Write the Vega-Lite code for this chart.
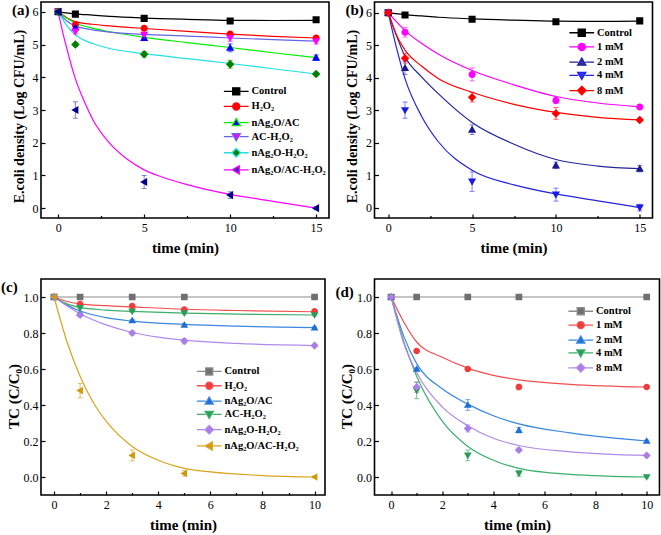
{
"$schema": "https://vega.github.io/schema/vega-lite/v6.json",
"background": "white",
"padding": {"left": 0, "top": 1, "right": 0, "bottom": 0},
"config": {
 "view": {"stroke": "#000", "strokeWidth": 1.6},
 "axis": {"grid": false, "domain": false, "tickColor": "#000", "tickWidth": 1.2, "labelOverlap": false, "labelFont": "Liberation Serif", "labelFontSize": 12, "labelColor": "#000", "titleFont": "Liberation Serif", "titleFontSize": 15, "titleFontWeight": "bold", "titleColor": "#000"},
 "axisX": {"labelPadding": 8, "titlePadding": 6},
 "axisY": {"labelPadding": 7, "titlePadding": 6},
 "legend": {"labelFont": "Liberation Serif", "labelFontSize": 10.5, "labelFontWeight": "bold", "labelColor": "#000", "padding": 0, "symbolSize": 50, "labelOffset": 10},
 "title": {"font": "Liberation Serif", "fontSize": 15, "fontWeight": "bold", "color": "#000", "anchor": "start", "frame": "group"}
},
"datasets": {
 "a_pts": [
  {"s":"Control","t":0,"y":6,"lo":6,"hi":6},{"s":"Control","t":1,"y":5.93,"lo":5.88,"hi":5.98},{"s":"Control","t":5,"y":5.8,"lo":5.75,"hi":5.85},{"s":"Control","t":10,"y":5.72,"lo":5.66,"hi":5.78},{"s":"Control","t":15,"y":5.76,"lo":5.71,"hi":5.81},
  {"s":"H₂O₂","t":0,"y":6,"lo":6,"hi":6},{"s":"H₂O₂","t":1,"y":5.6,"lo":5.52,"hi":5.68},{"s":"H₂O₂","t":5,"y":5.5,"lo":5.45,"hi":5.55},{"s":"H₂O₂","t":10,"y":5.32,"lo":5.27,"hi":5.37},{"s":"H₂O₂","t":15,"y":5.2,"lo":5.15,"hi":5.25},
  {"s":"nAg₂O/AC","t":0,"y":6,"lo":6,"hi":6},{"s":"nAg₂O/AC","t":1,"y":5.52,"lo":5.44,"hi":5.6},{"s":"nAg₂O/AC","t":5,"y":5.2,"lo":5.12,"hi":5.28},{"s":"nAg₂O/AC","t":10,"y":4.9,"lo":4.78,"hi":5.02},{"s":"nAg₂O/AC","t":15,"y":4.6,"lo":4.52,"hi":4.68},
  {"s":"AC-H₂O₂","t":0,"y":6,"lo":6,"hi":6},{"s":"AC-H₂O₂","t":1,"y":5.4,"lo":5.32,"hi":5.48},{"s":"AC-H₂O₂","t":5,"y":5.3,"lo":5.22,"hi":5.38},{"s":"AC-H₂O₂","t":10,"y":5.2,"lo":5.1,"hi":5.3},{"s":"AC-H₂O₂","t":15,"y":5.1,"lo":5.02,"hi":5.18},
  {"s":"nAg₂O-H₂O₂","t":0,"y":6,"lo":6,"hi":6},{"s":"nAg₂O-H₂O₂","t":1,"y":5.0,"lo":4.95,"hi":5.05},{"s":"nAg₂O-H₂O₂","t":5,"y":4.7,"lo":4.62,"hi":4.78},{"s":"nAg₂O-H₂O₂","t":10,"y":4.4,"lo":4.28,"hi":4.52},{"s":"nAg₂O-H₂O₂","t":15,"y":4.1,"lo":4.05,"hi":4.15},
  {"s":"nAg₂O/AC-H₂O₂","t":0,"y":6,"lo":6,"hi":6},{"s":"nAg₂O/AC-H₂O₂","t":1,"y":3.0,"lo":2.75,"hi":3.25},{"s":"nAg₂O/AC-H₂O₂","t":5,"y":0.8,"lo":0.6,"hi":1.0},{"s":"nAg₂O/AC-H₂O₂","t":10,"y":0.4,"lo":0.3,"hi":0.5},{"s":"nAg₂O/AC-H₂O₂","t":15,"y":0,"lo":-0.05,"hi":0.05}
 ],
 "a_fit": [
  {"s":"Control","t":0,"y":6},{"s":"Control","t":1,"y":5.94},{"s":"Control","t":2,"y":5.9},{"s":"Control","t":3,"y":5.86},{"s":"Control","t":5,"y":5.81},{"s":"Control","t":7.5,"y":5.77},{"s":"Control","t":10,"y":5.74},{"s":"Control","t":12.5,"y":5.735},{"s":"Control","t":15,"y":5.74},
  {"s":"H₂O₂","t":0,"y":6},{"s":"H₂O₂","t":0.5,"y":5.82},{"s":"H₂O₂","t":1,"y":5.7},{"s":"H₂O₂","t":2,"y":5.62},{"s":"H₂O₂","t":3,"y":5.57},{"s":"H₂O₂","t":5,"y":5.49},{"s":"H₂O₂","t":7.5,"y":5.4},{"s":"H₂O₂","t":10,"y":5.32},{"s":"H₂O₂","t":12.5,"y":5.25},{"s":"H₂O₂","t":15,"y":5.2},
  {"s":"nAg₂O/AC","t":0,"y":6},{"s":"nAg₂O/AC","t":0.5,"y":5.8},{"s":"nAg₂O/AC","t":1,"y":5.66},{"s":"nAg₂O/AC","t":2,"y":5.5},{"s":"nAg₂O/AC","t":3,"y":5.39},{"s":"nAg₂O/AC","t":5,"y":5.22},{"s":"nAg₂O/AC","t":7.5,"y":5.06},{"s":"nAg₂O/AC","t":10,"y":4.91},{"s":"nAg₂O/AC","t":12.5,"y":4.75},{"s":"nAg₂O/AC","t":15,"y":4.6},
  {"s":"AC-H₂O₂","t":0,"y":6},{"s":"AC-H₂O₂","t":0.5,"y":5.72},{"s":"AC-H₂O₂","t":1,"y":5.57},{"s":"AC-H₂O₂","t":2,"y":5.45},{"s":"AC-H₂O₂","t":3,"y":5.38},{"s":"AC-H₂O₂","t":5,"y":5.31},{"s":"AC-H₂O₂","t":7.5,"y":5.26},{"s":"AC-H₂O₂","t":10,"y":5.2},{"s":"AC-H₂O₂","t":12.5,"y":5.15},{"s":"AC-H₂O₂","t":15,"y":5.1},
  {"s":"nAg₂O-H₂O₂","t":0,"y":6},{"s":"nAg₂O-H₂O₂","t":0.5,"y":5.58},{"s":"nAg₂O-H₂O₂","t":1,"y":5.3},{"s":"nAg₂O-H₂O₂","t":2,"y":5.03},{"s":"nAg₂O-H₂O₂","t":3,"y":4.88},{"s":"nAg₂O-H₂O₂","t":5,"y":4.72},{"s":"nAg₂O-H₂O₂","t":7.5,"y":4.57},{"s":"nAg₂O-H₂O₂","t":10,"y":4.42},{"s":"nAg₂O-H₂O₂","t":12.5,"y":4.26},{"s":"nAg₂O-H₂O₂","t":15,"y":4.1},
  {"s":"nAg₂O/AC-H₂O₂","t":0,"y":6},{"s":"nAg₂O/AC-H₂O₂","t":0.25,"y":5.4},{"s":"nAg₂O/AC-H₂O₂","t":0.5,"y":4.88},{"s":"nAg₂O/AC-H₂O₂","t":1,"y":3.95},{"s":"nAg₂O/AC-H₂O₂","t":1.5,"y":3.28},{"s":"nAg₂O/AC-H₂O₂","t":2,"y":2.72},{"s":"nAg₂O/AC-H₂O₂","t":3,"y":1.98},{"s":"nAg₂O/AC-H₂O₂","t":4,"y":1.5},{"s":"nAg₂O/AC-H₂O₂","t":5,"y":1.17},{"s":"nAg₂O/AC-H₂O₂","t":6,"y":0.96},{"s":"nAg₂O/AC-H₂O₂","t":7.5,"y":0.72},{"s":"nAg₂O/AC-H₂O₂","t":10,"y":0.42},{"s":"nAg₂O/AC-H₂O₂","t":12.5,"y":0.21},{"s":"nAg₂O/AC-H₂O₂","t":15,"y":0}
 ],
 "b_pts": [
  {"s":"Control","t":0,"y":6,"lo":6,"hi":6},{"s":"Control","t":1,"y":5.93,"lo":5.88,"hi":5.98},{"s":"Control","t":5,"y":5.8,"lo":5.75,"hi":5.85},{"s":"Control","t":10,"y":5.72,"lo":5.66,"hi":5.78},{"s":"Control","t":15,"y":5.75,"lo":5.7,"hi":5.8},
  {"s":"1 mM","t":0,"y":6,"lo":6,"hi":6},{"s":"1 mM","t":1,"y":5.4,"lo":5.25,"hi":5.55},{"s":"1 mM","t":5,"y":4.1,"lo":3.9,"hi":4.3},{"s":"1 mM","t":10,"y":3.3,"lo":3.2,"hi":3.4},{"s":"1 mM","t":15,"y":3.1,"lo":3.04,"hi":3.16},
  {"s":"2 mM","t":0,"y":6,"lo":6,"hi":6},{"s":"2 mM","t":1,"y":4.3,"lo":4.1,"hi":4.5},{"s":"2 mM","t":5,"y":2.4,"lo":2.25,"hi":2.55},{"s":"2 mM","t":10,"y":1.3,"lo":1.2,"hi":1.4},{"s":"2 mM","t":15,"y":1.2,"lo":1.1,"hi":1.3},
  {"s":"4 mM","t":0,"y":6,"lo":6,"hi":6},{"s":"4 mM","t":1,"y":3.0,"lo":2.75,"hi":3.25},{"s":"4 mM","t":5,"y":0.8,"lo":0.5,"hi":1.1},{"s":"4 mM","t":10,"y":0.4,"lo":0.2,"hi":0.6},{"s":"4 mM","t":15,"y":0,"lo":-0.1,"hi":0.1},
  {"s":"8 mM","t":0,"y":6,"lo":6,"hi":6},{"s":"8 mM","t":1,"y":4.6,"lo":4.45,"hi":4.75},{"s":"8 mM","t":5,"y":3.4,"lo":3.25,"hi":3.55},{"s":"8 mM","t":10,"y":2.9,"lo":2.72,"hi":3.08},{"s":"8 mM","t":15,"y":2.7,"lo":2.64,"hi":2.76}
 ],
 "b_fit": [
  {"s":"Control","t":0,"y":6},{"s":"Control","t":1,"y":5.94},{"s":"Control","t":2,"y":5.9},{"s":"Control","t":3,"y":5.86},{"s":"Control","t":5,"y":5.81},{"s":"Control","t":7.5,"y":5.77},{"s":"Control","t":10,"y":5.74},{"s":"Control","t":12.5,"y":5.735},{"s":"Control","t":15,"y":5.74},
  {"s":"1 mM","t":0,"y":6},{"s":"1 mM","t":1,"y":5.45},{"s":"1 mM","t":2,"y":5.05},{"s":"1 mM","t":3,"y":4.72},{"s":"1 mM","t":5,"y":4.22},{"s":"1 mM","t":7.5,"y":3.78},{"s":"1 mM","t":10,"y":3.42},{"s":"1 mM","t":12.5,"y":3.22},{"s":"1 mM","t":15,"y":3.1},
  {"s":"2 mM","t":0,"y":6},{"s":"2 mM","t":0.5,"y":5.28},{"s":"2 mM","t":1,"y":4.65},{"s":"2 mM","t":2,"y":4.02},{"s":"2 mM","t":3,"y":3.5},{"s":"2 mM","t":5,"y":2.62},{"s":"2 mM","t":7.5,"y":1.95},{"s":"2 mM","t":10,"y":1.48},{"s":"2 mM","t":12.5,"y":1.28},{"s":"2 mM","t":15,"y":1.2},
  {"s":"4 mM","t":0,"y":6},{"s":"4 mM","t":0.5,"y":4.9},{"s":"4 mM","t":1,"y":3.97},{"s":"4 mM","t":2,"y":2.8},{"s":"4 mM","t":3,"y":2.02},{"s":"4 mM","t":5,"y":1.15},{"s":"4 mM","t":7.5,"y":0.7},{"s":"4 mM","t":10,"y":0.42},{"s":"4 mM","t":12.5,"y":0.21},{"s":"4 mM","t":15,"y":0},
  {"s":"8 mM","t":0,"y":6},{"s":"8 mM","t":0.5,"y":5.3},{"s":"8 mM","t":1,"y":4.85},{"s":"8 mM","t":2,"y":4.35},{"s":"8 mM","t":3,"y":3.97},{"s":"8 mM","t":5,"y":3.55},{"s":"8 mM","t":7.5,"y":3.18},{"s":"8 mM","t":10,"y":2.93},{"s":"8 mM","t":12.5,"y":2.78},{"s":"8 mM","t":15,"y":2.7}
 ],
 "c_pts": [
  {"s":"Control","t":0,"y":1,"lo":1,"hi":1},{"s":"Control","t":1,"y":1,"lo":1,"hi":1},{"s":"Control","t":3,"y":1,"lo":1,"hi":1},{"s":"Control","t":5,"y":1,"lo":1,"hi":1},{"s":"Control","t":10,"y":1,"lo":1,"hi":1},
  {"s":"H₂O₂","t":0,"y":1,"lo":1,"hi":1},{"s":"H₂O₂","t":1,"y":0.96,"lo":0.955,"hi":0.965},{"s":"H₂O₂","t":3,"y":0.95,"lo":0.945,"hi":0.955},{"s":"H₂O₂","t":5,"y":0.93,"lo":0.925,"hi":0.935},{"s":"H₂O₂","t":10,"y":0.92,"lo":0.915,"hi":0.925},
  {"s":"nAg₂O/AC","t":0,"y":1,"lo":1,"hi":1},{"s":"nAg₂O/AC","t":1,"y":0.91,"lo":0.905,"hi":0.915},{"s":"nAg₂O/AC","t":3,"y":0.87,"lo":0.865,"hi":0.875},{"s":"nAg₂O/AC","t":5,"y":0.845,"lo":0.84,"hi":0.85},{"s":"nAg₂O/AC","t":10,"y":0.83,"lo":0.825,"hi":0.835},
  {"s":"AC-H₂O₂","t":0,"y":1,"lo":1,"hi":1},{"s":"AC-H₂O₂","t":1,"y":0.94,"lo":0.935,"hi":0.945},{"s":"AC-H₂O₂","t":3,"y":0.92,"lo":0.915,"hi":0.925},{"s":"AC-H₂O₂","t":5,"y":0.91,"lo":0.905,"hi":0.915},{"s":"AC-H₂O₂","t":10,"y":0.9,"lo":0.895,"hi":0.905},
  {"s":"nAg₂O-H₂O₂","t":0,"y":1,"lo":1,"hi":1},{"s":"nAg₂O-H₂O₂","t":1,"y":0.9,"lo":0.89,"hi":0.91},{"s":"nAg₂O-H₂O₂","t":3,"y":0.8,"lo":0.79,"hi":0.81},{"s":"nAg₂O-H₂O₂","t":5,"y":0.755,"lo":0.74,"hi":0.77},{"s":"nAg₂O-H₂O₂","t":10,"y":0.73,"lo":0.725,"hi":0.735},
  {"s":"nAg₂O/AC-H₂O₂","t":0,"y":1,"lo":1,"hi":1},{"s":"nAg₂O/AC-H₂O₂","t":1,"y":0.48,"lo":0.44,"hi":0.52},{"s":"nAg₂O/AC-H₂O₂","t":3,"y":0.12,"lo":0.09,"hi":0.15},{"s":"nAg₂O/AC-H₂O₂","t":5,"y":0.02,"lo":0.005,"hi":0.035},{"s":"nAg₂O/AC-H₂O₂","t":10,"y":0,"lo":-0.005,"hi":0.005}
 ],
 "c_fit": [
  {"s":"Control","t":0,"y":1},{"s":"Control","t":10,"y":1},
  {"s":"H₂O₂","t":0,"y":1},{"s":"H₂O₂","t":0.5,"y":0.975},{"s":"H₂O₂","t":1,"y":0.962},{"s":"H₂O₂","t":2,"y":0.952},{"s":"H₂O₂","t":3,"y":0.945},{"s":"H₂O₂","t":5,"y":0.932},{"s":"H₂O₂","t":7,"y":0.925},{"s":"H₂O₂","t":10,"y":0.918},
  {"s":"nAg₂O/AC","t":0,"y":1},{"s":"nAg₂O/AC","t":0.5,"y":0.955},{"s":"nAg₂O/AC","t":1,"y":0.922},{"s":"nAg₂O/AC","t":2,"y":0.885},{"s":"nAg₂O/AC","t":3,"y":0.866},{"s":"nAg₂O/AC","t":5,"y":0.848},{"s":"nAg₂O/AC","t":7,"y":0.838},{"s":"nAg₂O/AC","t":10,"y":0.83},
  {"s":"AC-H₂O₂","t":0,"y":1},{"s":"AC-H₂O₂","t":0.5,"y":0.962},{"s":"AC-H₂O₂","t":1,"y":0.942},{"s":"AC-H₂O₂","t":2,"y":0.927},{"s":"AC-H₂O₂","t":3,"y":0.92},{"s":"AC-H₂O₂","t":5,"y":0.91},{"s":"AC-H₂O₂","t":7,"y":0.905},{"s":"AC-H₂O₂","t":10,"y":0.9},
  {"s":"nAg₂O-H₂O₂","t":0,"y":1},{"s":"nAg₂O-H₂O₂","t":0.5,"y":0.95},{"s":"nAg₂O-H₂O₂","t":1,"y":0.907},{"s":"nAg₂O-H₂O₂","t":2,"y":0.845},{"s":"nAg₂O-H₂O₂","t":3,"y":0.803},{"s":"nAg₂O-H₂O₂","t":4,"y":0.777},{"s":"nAg₂O-H₂O₂","t":5,"y":0.76},{"s":"nAg₂O-H₂O₂","t":7,"y":0.742},{"s":"nAg₂O-H₂O₂","t":10,"y":0.73},
  {"s":"nAg₂O/AC-H₂O₂","t":0,"y":1},{"s":"nAg₂O/AC-H₂O₂","t":0.5,"y":0.75},{"s":"nAg₂O/AC-H₂O₂","t":1,"y":0.56},{"s":"nAg₂O/AC-H₂O₂","t":1.5,"y":0.415},{"s":"nAg₂O/AC-H₂O₂","t":2,"y":0.31},{"s":"nAg₂O/AC-H₂O₂","t":3,"y":0.17},{"s":"nAg₂O/AC-H₂O₂","t":4,"y":0.093},{"s":"nAg₂O/AC-H₂O₂","t":5,"y":0.048},{"s":"nAg₂O/AC-H₂O₂","t":6,"y":0.028},{"s":"nAg₂O/AC-H₂O₂","t":8,"y":0.008},{"s":"nAg₂O/AC-H₂O₂","t":10,"y":0}
 ],
 "d_pts": [
  {"s":"Control","t":0,"y":1,"lo":1,"hi":1},{"s":"Control","t":1,"y":1,"lo":1,"hi":1},{"s":"Control","t":3,"y":1,"lo":1,"hi":1},{"s":"Control","t":5,"y":1,"lo":1,"hi":1},{"s":"Control","t":10,"y":1,"lo":1,"hi":1},
  {"s":"1 mM","t":0,"y":1,"lo":1,"hi":1},{"s":"1 mM","t":1,"y":0.7,"lo":0.695,"hi":0.705},{"s":"1 mM","t":3,"y":0.6,"lo":0.595,"hi":0.605},{"s":"1 mM","t":5,"y":0.5,"lo":0.485,"hi":0.515},{"s":"1 mM","t":10,"y":0.5,"lo":0.495,"hi":0.505},
  {"s":"2 mM","t":0,"y":1,"lo":1,"hi":1},{"s":"2 mM","t":1,"y":0.6,"lo":0.595,"hi":0.605},{"s":"2 mM","t":3,"y":0.4,"lo":0.37,"hi":0.43},{"s":"2 mM","t":5,"y":0.26,"lo":0.245,"hi":0.275},{"s":"2 mM","t":10,"y":0.2,"lo":0.195,"hi":0.205},
  {"s":"4 mM","t":0,"y":1,"lo":1,"hi":1},{"s":"4 mM","t":1,"y":0.48,"lo":0.435,"hi":0.525},{"s":"4 mM","t":3,"y":0.12,"lo":0.09,"hi":0.15},{"s":"4 mM","t":5,"y":0.02,"lo":0.005,"hi":0.035},{"s":"4 mM","t":10,"y":0,"lo":-0.005,"hi":0.005},
  {"s":"8 mM","t":0,"y":1,"lo":1,"hi":1},{"s":"8 mM","t":1,"y":0.5,"lo":0.47,"hi":0.53},{"s":"8 mM","t":3,"y":0.27,"lo":0.25,"hi":0.29},{"s":"8 mM","t":5,"y":0.15,"lo":0.14,"hi":0.16},{"s":"8 mM","t":10,"y":0.12,"lo":0.115,"hi":0.125}
 ],
 "d_fit": [
  {"s":"Control","t":0,"y":1},{"s":"Control","t":10,"y":1},
  {"s":"1 mM","t":0,"y":1},{"s":"1 mM","t":0.5,"y":0.86},{"s":"1 mM","t":1,"y":0.75},{"s":"1 mM","t":2,"y":0.665},{"s":"1 mM","t":3,"y":0.605},{"s":"1 mM","t":4,"y":0.565},{"s":"1 mM","t":5,"y":0.54},{"s":"1 mM","t":7,"y":0.515},{"s":"1 mM","t":10,"y":0.5},
  {"s":"2 mM","t":0,"y":1},{"s":"2 mM","t":0.5,"y":0.78},{"s":"2 mM","t":1,"y":0.63},{"s":"2 mM","t":2,"y":0.49},{"s":"2 mM","t":3,"y":0.405},{"s":"2 mM","t":4,"y":0.34},{"s":"2 mM","t":5,"y":0.295},{"s":"2 mM","t":7,"y":0.245},{"s":"2 mM","t":10,"y":0.2},
  {"s":"4 mM","t":0,"y":1},{"s":"4 mM","t":0.5,"y":0.75},{"s":"4 mM","t":1,"y":0.56},{"s":"4 mM","t":2,"y":0.31},{"s":"4 mM","t":3,"y":0.17},{"s":"4 mM","t":4,"y":0.093},{"s":"4 mM","t":5,"y":0.048},{"s":"4 mM","t":7,"y":0.015},{"s":"4 mM","t":10,"y":0},
  {"s":"8 mM","t":0,"y":1},{"s":"8 mM","t":0.5,"y":0.74},{"s":"8 mM","t":1,"y":0.58},{"s":"8 mM","t":2,"y":0.39},{"s":"8 mM","t":3,"y":0.285},{"s":"8 mM","t":4,"y":0.215},{"s":"8 mM","t":5,"y":0.175},{"s":"8 mM","t":7,"y":0.14},{"s":"8 mM","t":10,"y":0.12}
 ]
},
"spacing": 4.5,
"resolve": {"scale": {"color": "independent", "stroke": "independent", "fill": "independent", "shape": "independent"}},
"hconcat": [
 {"vconcat": [
  {"width": 288, "height": 216,
   "title": {"text": "(a)", "offset": -16, "dx": -29},
   "layer": [
    {"data": {"name": "a_fit"}, "mark": {"type": "line", "interpolate": "monotone", "strokeWidth": 1.2},
     "encoding": {
      "x": {"field": "t", "type": "quantitative", "title": "time (min)", "scale": {"domain": [-1, 15.75], "nice": false, "zero": false}, "axis": {"values": [0, 2.5, 5, 7.5, 10, 12.5, 15], "labelExpr": "datum.value % 5 === 0 ? datum.label : ''", "tickSize": {"condition": {"test": "datum.value % 5 !== 0", "value": -2.5}, "value": -4}}},
      "y": {"field": "y", "type": "quantitative", "title": "E.coli density (Log CFU/mL)", "scale": {"domain": [-0.3, 6.3], "nice": false, "zero": false}, "axis": {"values": [0, 1, 2, 3, 4, 5, 6], "tickSize": -4, "titleFontSize": 14, "titleY": 114}},
      "stroke": {"field": "s", "type": "nominal", "scale": {"domain": ["Control", "H₂O₂", "nAg₂O/AC", "AC-H₂O₂", "nAg₂O-H₂O₂", "nAg₂O/AC-H₂O₂"], "range": ["#000000", "#ff0000", "#00ee00", "#6464e6", "#22e0e0", "#ff00ff"]}, "legend": {"title": null, "orient": "none", "legendX": 190, "legendY": 84.1, "rowPadding": 2.1, "encode": {"symbols": {"update": {"strokeWidth": {"value": 1.3}}}}}}
     }},
    {"data": {"name": "a_pts"}, "mark": {"type": "errorbar", "ticks": {"size": 5}, "thickness": 1, "opacity": 0.6},
     "encoding": {
      "x": {"field": "t", "type": "quantitative", "title": "time (min)", "scale": {"domain": [-1, 15.75], "nice": false, "zero": false}, "axis": {"values": [0, 2.5, 5, 7.5, 10, 12.5, 15], "labelExpr": "datum.value % 5 === 0 ? datum.label : ''", "tickSize": {"condition": {"test": "datum.value % 5 !== 0", "value": -2.5}, "value": -4}}},
      "y": {"field": "lo", "type": "quantitative", "title": "E.coli density (Log CFU/mL)", "scale": {"domain": [-0.3, 6.3], "nice": false, "zero": false}, "axis": {"values": [0, 1, 2, 3, 4, 5, 6], "tickSize": -4, "titleFontSize": 14, "titleY": 114}},
      "y2": {"field": "hi"},
      "color": {"field": "s", "type": "nominal", "scale": {"domain": ["Control", "H₂O₂", "nAg₂O/AC", "AC-H₂O₂", "nAg₂O-H₂O₂", "nAg₂O/AC-H₂O₂"], "range": ["#000000", "#ff0000", "#0000ff", "#ff00ff", "#008000", "#3030b0"]}, "legend": null}
     }},
    {"data": {"name": "a_pts"}, "mark": {"type": "point", "filled": true, "size": 50, "strokeWidth": 0, "opacity": 1},
     "encoding": {
      "x": {"field": "t", "type": "quantitative", "title": "time (min)", "scale": {"domain": [-1, 15.75], "nice": false, "zero": false}, "axis": {"values": [0, 2.5, 5, 7.5, 10, 12.5, 15], "labelExpr": "datum.value % 5 === 0 ? datum.label : ''", "tickSize": {"condition": {"test": "datum.value % 5 !== 0", "value": -2.5}, "value": -4}}},
      "y": {"field": "y", "type": "quantitative", "title": "E.coli density (Log CFU/mL)", "scale": {"domain": [-0.3, 6.3], "nice": false, "zero": false}, "axis": {"values": [0, 1, 2, 3, 4, 5, 6], "tickSize": -4, "titleFontSize": 14, "titleY": 114}},
      "stroke": {"field": "s", "type": "nominal", "legend": {"title": null, "orient": "none", "legendX": 190, "legendY": 84.1, "rowPadding": 2.1, "encode": {"symbols": {"update": {"strokeWidth": {"value": 1.3}}}}}},
      "fill": {"field": "s", "type": "nominal", "scale": {"domain": ["Control", "H₂O₂", "nAg₂O/AC", "AC-H₂O₂", "nAg₂O-H₂O₂", "nAg₂O/AC-H₂O₂"], "range": ["#000000", "#ff0000", "#0000ff", "#ff00ff", "#008000", "#000080"]}, "legend": {"title": null, "orient": "none", "legendX": 190, "legendY": 84.1, "rowPadding": 2.1, "encode": {"symbols": {"update": {"strokeWidth": {"value": 1.3}}}}}},
      "shape": {"field": "s", "type": "nominal", "scale": {"domain": ["Control", "H₂O₂", "nAg₂O/AC", "AC-H₂O₂", "nAg₂O-H₂O₂", "nAg₂O/AC-H₂O₂"], "range": ["M-3.5,0H-1M1,0H3.5M-1,-1H1V1H-1Z", "M-3.5,0H-1M1,0H3.5M-1,0A1,1,0,1,1,1,0A1,1,0,1,1,-1,0Z", "M-3.5,0H-1M1,0H3.5M0,-1.15L1.15,0.85H-1.15Z", "M-3.5,0H-1M1,0H3.5M0,1.15L1.15,-0.85H-1.15Z", "M-3.5,0H-1.2M1.2,0H3.5M0,-1.2L1.2,0L0,1.2L-1.2,0Z", "M-3.5,0H-1.15M0.85,0H3.5M-1.15,0L0.85,-1.15V1.15Z"]}, "legend": {"title": null, "orient": "none", "legendX": 190, "legendY": 84.1, "rowPadding": 2.1, "encode": {"symbols": {"update": {"strokeWidth": {"value": 1.3}}}}}}
     }}
   ]},
  {"width": 284, "height": 216,
   "title": {"text": "(c)", "offset": -16, "dx": -40},
   "layer": [
    {"data": {"name": "c_fit"}, "mark": {"type": "line", "interpolate": "monotone", "strokeWidth": 1.2},
     "encoding": {
      "x": {"field": "t", "type": "quantitative", "title": "time (min)", "scale": {"domain": [-0.5, 10.4], "nice": false, "zero": false}, "axis": {"values": [0, 1, 2, 3, 4, 5, 6, 7, 8, 9, 10], "labelExpr": "datum.value % 2 === 0 ? datum.label : ''", "tickSize": {"condition": {"test": "datum.value % 2 !== 0", "value": -2.5}, "value": -4}}},
      "y": {"field": "y", "type": "quantitative", "title": "TC (C/C₀)", "scale": {"domain": [-0.1, 1.1], "nice": false, "zero": false}, "axis": {"values": [0, 0.2, 0.4, 0.6, 0.8, 1.0], "format": ".1f", "tickSize": -4, "titlePadding": 2, "titleY": 117}},
      "stroke": {"field": "s", "type": "nominal", "scale": {"domain": ["Control", "H₂O₂", "nAg₂O/AC", "AC-H₂O₂", "nAg₂O-H₂O₂", "nAg₂O/AC-H₂O₂"], "range": ["#8c8c8c", "#f05050", "#3a86e0", "#3cae6a", "#b08ae8", "#d9a520"]}, "legend": {"title": null, "orient": "none", "legendX": 163, "legendY": 87.2, "rowPadding": 1.3, "encode": {"symbols": {"update": {"strokeWidth": {"value": 1.3}}}}}}
     }},
    {"data": {"name": "c_pts"}, "mark": {"type": "errorbar", "ticks": {"size": 5}, "thickness": 1, "opacity": 0.6},
     "encoding": {
      "x": {"field": "t", "type": "quantitative", "title": "time (min)", "scale": {"domain": [-0.5, 10.4], "nice": false, "zero": false}, "axis": {"values": [0, 1, 2, 3, 4, 5, 6, 7, 8, 9, 10], "labelExpr": "datum.value % 2 === 0 ? datum.label : ''", "tickSize": {"condition": {"test": "datum.value % 2 !== 0", "value": -2.5}, "value": -4}}},
      "y": {"field": "lo", "type": "quantitative", "title": "TC (C/C₀)", "scale": {"domain": [-0.1, 1.1], "nice": false, "zero": false}, "axis": {"values": [0, 0.2, 0.4, 0.6, 0.8, 1.0], "format": ".1f", "tickSize": -4, "titlePadding": 2, "titleY": 117}},
      "y2": {"field": "hi"},
      "color": {"field": "s", "type": "nominal", "scale": {"domain": ["Control", "H₂O₂", "nAg₂O/AC", "AC-H₂O₂", "nAg₂O-H₂O₂", "nAg₂O/AC-H₂O₂"], "range": ["#707070", "#f03c3c", "#1f6fd6", "#2a9d58", "#a97ee6", "#d09a10"]}, "legend": null}
     }},
    {"data": {"name": "c_pts"}, "mark": {"type": "point", "filled": true, "size": 45, "strokeWidth": 0, "opacity": 1},
     "encoding": {
      "x": {"field": "t", "type": "quantitative", "title": "time (min)", "scale": {"domain": [-0.5, 10.4], "nice": false, "zero": false}, "axis": {"values": [0, 1, 2, 3, 4, 5, 6, 7, 8, 9, 10], "labelExpr": "datum.value % 2 === 0 ? datum.label : ''", "tickSize": {"condition": {"test": "datum.value % 2 !== 0", "value": -2.5}, "value": -4}}},
      "y": {"field": "y", "type": "quantitative", "title": "TC (C/C₀)", "scale": {"domain": [-0.1, 1.1], "nice": false, "zero": false}, "axis": {"values": [0, 0.2, 0.4, 0.6, 0.8, 1.0], "format": ".1f", "tickSize": -4, "titlePadding": 2, "titleY": 117}},
      "stroke": {"field": "s", "type": "nominal", "legend": {"title": null, "orient": "none", "legendX": 163, "legendY": 87.2, "rowPadding": 1.3, "encode": {"symbols": {"update": {"strokeWidth": {"value": 1.3}}}}}},
      "fill": {"field": "s", "type": "nominal", "scale": {"domain": ["Control", "H₂O₂", "nAg₂O/AC", "AC-H₂O₂", "nAg₂O-H₂O₂", "nAg₂O/AC-H₂O₂"], "range": ["#707070", "#f03c3c", "#1f6fd6", "#2a9d58", "#a97ee6", "#d09a10"]}, "legend": {"title": null, "orient": "none", "legendX": 163, "legendY": 87.2, "rowPadding": 1.3, "encode": {"symbols": {"update": {"strokeWidth": {"value": 1.3}}}}}},
      "shape": {"field": "s", "type": "nominal", "scale": {"domain": ["Control", "H₂O₂", "nAg₂O/AC", "AC-H₂O₂", "nAg₂O-H₂O₂", "nAg₂O/AC-H₂O₂"], "range": ["M-3.5,0H-1M1,0H3.5M-1,-1H1V1H-1Z", "M-3.5,0H-1M1,0H3.5M-1,0A1,1,0,1,1,1,0A1,1,0,1,1,-1,0Z", "M-3.5,0H-1M1,0H3.5M0,-1.15L1.15,0.85H-1.15Z", "M-3.5,0H-1M1,0H3.5M0,1.15L1.15,-0.85H-1.15Z", "M-3.5,0H-1.2M1.2,0H3.5M0,-1.2L1.2,0L0,1.2L-1.2,0Z", "M-3.5,0H-1.15M0.85,0H3.5M-1.15,0L0.85,-1.15V1.15Z"]}, "legend": {"title": null, "orient": "none", "legendX": 163, "legendY": 87.2, "rowPadding": 1.3, "encode": {"symbols": {"update": {"strokeWidth": {"value": 1.3}}}}}}
     }}
   ]}
 ], "spacing": 61, "bounds": "flush", "resolve": {"scale": {"color": "independent", "stroke": "independent", "fill": "independent", "shape": "independent"}}},
 {"vconcat": [
  {"width": 278, "height": 216,
   "title": {"text": "(b)", "offset": -16, "dx": -29},
   "layer": [
    {"data": {"name": "b_fit"}, "mark": {"type": "line", "interpolate": "monotone", "strokeWidth": 1.2},
     "encoding": {
      "x": {"field": "t", "type": "quantitative", "title": "time (min)", "scale": {"domain": [-0.82, 15.76], "nice": false, "zero": false}, "axis": {"values": [0, 2.5, 5, 7.5, 10, 12.5, 15], "labelExpr": "datum.value % 5 === 0 ? datum.label : ''", "tickSize": {"condition": {"test": "datum.value % 5 !== 0", "value": -2.5}, "value": -4}}},
      "y": {"field": "y", "type": "quantitative", "title": "E.coli density (Log CFU/mL)", "scale": {"domain": [-0.32, 6.33], "nice": false, "zero": false}, "axis": {"values": [0, 1, 2, 3, 4, 5, 6], "tickSize": -4, "titleFontSize": 14, "titleY": 114}},
      "stroke": {"field": "s", "type": "nominal", "scale": {"domain": ["Control", "1 mM", "2 mM", "4 mM", "8 mM"], "range": ["#000000", "#ff00ff", "#24249a", "#2424dc", "#ff0000"]}, "legend": {"title": null, "orient": "none", "legendX": 202, "legendY": 25.5, "rowPadding": 1.2, "encode": {"symbols": {"update": {"strokeWidth": {"value": 1.3}}}}}}
     }},
    {"data": {"name": "b_pts"}, "mark": {"type": "errorbar", "ticks": {"size": 5}, "thickness": 1, "opacity": 0.6},
     "encoding": {
      "x": {"field": "t", "type": "quantitative", "title": "time (min)", "scale": {"domain": [-0.82, 15.76], "nice": false, "zero": false}, "axis": {"values": [0, 2.5, 5, 7.5, 10, 12.5, 15], "labelExpr": "datum.value % 5 === 0 ? datum.label : ''", "tickSize": {"condition": {"test": "datum.value % 5 !== 0", "value": -2.5}, "value": -4}}},
      "y": {"field": "lo", "type": "quantitative", "title": "E.coli density (Log CFU/mL)", "scale": {"domain": [-0.32, 6.33], "nice": false, "zero": false}, "axis": {"values": [0, 1, 2, 3, 4, 5, 6], "tickSize": -4, "titleFontSize": 14, "titleY": 114}},
      "y2": {"field": "hi"},
      "color": {"field": "s", "type": "nominal", "scale": {"domain": ["Control", "1 mM", "2 mM", "4 mM", "8 mM"], "range": ["#000000", "#ff00ff", "#3030b0", "#3030ff", "#ff0000"]}, "legend": null}
     }},
    {"data": {"name": "b_pts"}, "mark": {"type": "point", "filled": true, "size": 50, "strokeWidth": 0, "opacity": 1},
     "encoding": {
      "x": {"field": "t", "type": "quantitative", "title": "time (min)", "scale": {"domain": [-0.82, 15.76], "nice": false, "zero": false}, "axis": {"values": [0, 2.5, 5, 7.5, 10, 12.5, 15], "labelExpr": "datum.value % 5 === 0 ? datum.label : ''", "tickSize": {"condition": {"test": "datum.value % 5 !== 0", "value": -2.5}, "value": -4}}},
      "y": {"field": "y", "type": "quantitative", "title": "E.coli density (Log CFU/mL)", "scale": {"domain": [-0.32, 6.33], "nice": false, "zero": false}, "axis": {"values": [0, 1, 2, 3, 4, 5, 6], "tickSize": -4, "titleFontSize": 14, "titleY": 114}},
      "stroke": {"field": "s", "type": "nominal", "legend": {"title": null, "orient": "none", "legendX": 202, "legendY": 25.5, "rowPadding": 1.2, "encode": {"symbols": {"update": {"strokeWidth": {"value": 1.3}}}}}},
      "fill": {"field": "s", "type": "nominal", "scale": {"domain": ["Control", "1 mM", "2 mM", "4 mM", "8 mM"], "range": ["#000000", "#ff00ff", "#1a1a8c", "#1a1ae6", "#ff0000"]}, "legend": {"title": null, "orient": "none", "legendX": 202, "legendY": 25.5, "rowPadding": 1.2, "encode": {"symbols": {"update": {"strokeWidth": {"value": 1.3}}}}}},
      "shape": {"field": "s", "type": "nominal", "scale": {"domain": ["Control", "1 mM", "2 mM", "4 mM", "8 mM"], "range": ["M-3.5,0H-1M1,0H3.5M-1,-1H1V1H-1Z", "M-3.5,0H-1M1,0H3.5M-1,0A1,1,0,1,1,1,0A1,1,0,1,1,-1,0Z", "M-3.5,0H-1M1,0H3.5M0,-1.15L1.15,0.85H-1.15Z", "M-3.5,0H-1M1,0H3.5M0,1.15L1.15,-0.85H-1.15Z", "M-3.5,0H-1.2M1.2,0H3.5M0,-1.2L1.2,0L0,1.2L-1.2,0Z"]}, "legend": {"title": null, "orient": "none", "legendX": 202, "legendY": 25.5, "rowPadding": 1.2, "encode": {"symbols": {"update": {"strokeWidth": {"value": 1.3}}}}}}
     }}
   ]},
  {"width": 285, "height": 216,
   "title": {"text": "(d)", "offset": -21, "dx": -39},
   "layer": [
    {"data": {"name": "d_fit"}, "mark": {"type": "line", "interpolate": "monotone", "strokeWidth": 1.2},
     "encoding": {
      "x": {"field": "t", "type": "quantitative", "title": "time (min)", "scale": {"domain": [-0.65, 10.5], "nice": false, "zero": false}, "axis": {"values": [0, 1, 2, 3, 4, 5, 6, 7, 8, 9, 10], "labelExpr": "datum.value % 2 === 0 ? datum.label : ''", "tickSize": {"condition": {"test": "datum.value % 2 !== 0", "value": -2.5}, "value": -4}}},
      "y": {"field": "y", "type": "quantitative", "title": "TC (C/C₀)", "scale": {"domain": [-0.1, 1.1], "nice": false, "zero": false}, "axis": {"values": [0, 0.2, 0.4, 0.6, 0.8, 1.0], "format": ".1f", "tickSize": -4, "titlePadding": 2, "titleY": 117}},
      "stroke": {"field": "s", "type": "nominal", "scale": {"domain": ["Control", "1 mM", "2 mM", "4 mM", "8 mM"], "range": ["#8c8c8c", "#f05050", "#3a86e0", "#3cae6a", "#b08ae8"]}, "legend": {"title": null, "orient": "none", "legendX": 201, "legendY": 27, "rowPadding": 0.9, "encode": {"symbols": {"update": {"strokeWidth": {"value": 1.3}}}}}}
     }},
    {"data": {"name": "d_pts"}, "mark": {"type": "errorbar", "ticks": {"size": 5}, "thickness": 1, "opacity": 0.6},
     "encoding": {
      "x": {"field": "t", "type": "quantitative", "title": "time (min)", "scale": {"domain": [-0.65, 10.5], "nice": false, "zero": false}, "axis": {"values": [0, 1, 2, 3, 4, 5, 6, 7, 8, 9, 10], "labelExpr": "datum.value % 2 === 0 ? datum.label : ''", "tickSize": {"condition": {"test": "datum.value % 2 !== 0", "value": -2.5}, "value": -4}}},
      "y": {"field": "lo", "type": "quantitative", "title": "TC (C/C₀)", "scale": {"domain": [-0.1, 1.1], "nice": false, "zero": false}, "axis": {"values": [0, 0.2, 0.4, 0.6, 0.8, 1.0], "format": ".1f", "tickSize": -4, "titlePadding": 2, "titleY": 117}},
      "y2": {"field": "hi"},
      "color": {"field": "s", "type": "nominal", "scale": {"domain": ["Control", "1 mM", "2 mM", "4 mM", "8 mM"], "range": ["#707070", "#f03c3c", "#1f6fd6", "#2a9d58", "#a97ee6"]}, "legend": null}
     }},
    {"data": {"name": "d_pts"}, "mark": {"type": "point", "filled": true, "size": 45, "strokeWidth": 0, "opacity": 1},
     "encoding": {
      "x": {"field": "t", "type": "quantitative", "title": "time (min)", "scale": {"domain": [-0.65, 10.5], "nice": false, "zero": false}, "axis": {"values": [0, 1, 2, 3, 4, 5, 6, 7, 8, 9, 10], "labelExpr": "datum.value % 2 === 0 ? datum.label : ''", "tickSize": {"condition": {"test": "datum.value % 2 !== 0", "value": -2.5}, "value": -4}}},
      "y": {"field": "y", "type": "quantitative", "title": "TC (C/C₀)", "scale": {"domain": [-0.1, 1.1], "nice": false, "zero": false}, "axis": {"values": [0, 0.2, 0.4, 0.6, 0.8, 1.0], "format": ".1f", "tickSize": -4, "titlePadding": 2, "titleY": 117}},
      "stroke": {"field": "s", "type": "nominal", "legend": {"title": null, "orient": "none", "legendX": 201, "legendY": 27, "rowPadding": 0.9, "encode": {"symbols": {"update": {"strokeWidth": {"value": 1.3}}}}}},
      "fill": {"field": "s", "type": "nominal", "scale": {"domain": ["Control", "1 mM", "2 mM", "4 mM", "8 mM"], "range": ["#707070", "#f03c3c", "#1f6fd6", "#2a9d58", "#a97ee6"]}, "legend": {"title": null, "orient": "none", "legendX": 201, "legendY": 27, "rowPadding": 0.9, "encode": {"symbols": {"update": {"strokeWidth": {"value": 1.3}}}}}},
      "shape": {"field": "s", "type": "nominal", "scale": {"domain": ["Control", "1 mM", "2 mM", "4 mM", "8 mM"], "range": ["M-3.5,0H-1M1,0H3.5M-1,-1H1V1H-1Z", "M-3.5,0H-1M1,0H3.5M-1,0A1,1,0,1,1,1,0A1,1,0,1,1,-1,0Z", "M-3.5,0H-1M1,0H3.5M0,-1.15L1.15,0.85H-1.15Z", "M-3.5,0H-1M1,0H3.5M0,1.15L1.15,-0.85H-1.15Z", "M-3.5,0H-1.2M1.2,0H3.5M0,-1.2L1.2,0L0,1.2L-1.2,0Z"]}, "legend": {"title": null, "orient": "none", "legendX": 201, "legendY": 27, "rowPadding": 0.9, "encode": {"symbols": {"update": {"strokeWidth": {"value": 1.3}}}}}}
     }}
   ]}
 ], "spacing": 61, "bounds": "flush", "resolve": {"scale": {"color": "independent", "stroke": "independent", "fill": "independent", "shape": "independent"}}}
]
}
